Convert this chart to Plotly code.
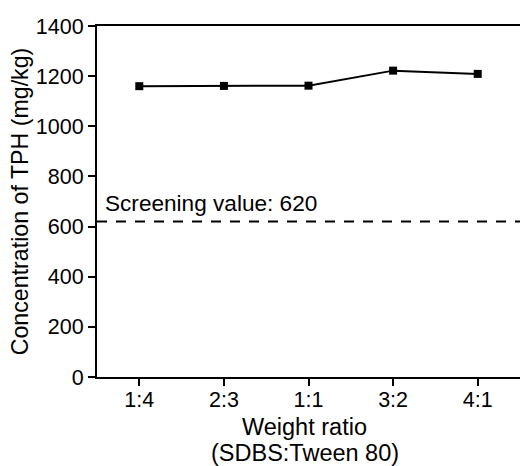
import plotly.graph_objects as go

ratios = ["1:4", "2:3", "1:1", "3:2", "4:1"]
tph = [1160, 1161, 1162, 1222, 1209]
screening_value = 620
y_ticks = [0, 200, 400, 600, 800, 1000, 1200, 1400]
x_title_lines = ["Weight ratio", "(SDBS:Tween 80)"]
y_title = "Concentration of TPH (mg/kg)"

FONT = "Liberation Sans, Arial, Helvetica, sans-serif"

fig = go.Figure()
fig.add_trace(go.Scatter(
    x=ratios, y=tph, mode="lines+markers",
    line=dict(color="black", width=2),
    marker=dict(symbol="square", size=8, color="black"),
    showlegend=False,
))

fig.add_shape(type="line", xref="paper", yref="y", x0=0, x1=1,
              y0=screening_value, y1=screening_value,
              line=dict(color="black", width=2, dash="10px,9px"))
fig.add_annotation(xref="paper", yref="y", x=0, y=screening_value,
                   xanchor="left", yanchor="bottom", xshift=6, yshift=4,
                   text=f"Screening value: {screening_value}", showarrow=False,
                   font=dict(size=22.6, color="black", family=FONT))

# x-axis title, two lines
for line_text, shift in zip(x_title_lines, [-50, -76]):
    fig.add_annotation(xref="paper", yref="paper", x=0.5, y=0,
                       xanchor="center", yanchor="middle", xshift=-4, yshift=shift,
                       text=line_text, showarrow=False,
                       font=dict(size=23.5, color="black", family=FONT))

fig.update_layout(
    width=520, height=466,
    margin=dict(l=97, r=0, t=26, b=89),
    plot_bgcolor="white", paper_bgcolor="white",
    font=dict(family=FONT, color="black", size=21),
)
fig.update_xaxes(
    range=[-0.5, 4.5], showgrid=False, zeroline=False, automargin=False,
    showline=True, linecolor="black", linewidth=2, mirror=True,
    ticks="outside", ticklen=7, tickwidth=2, tickcolor="black",
    tickfont=dict(size=21.5), ticklabelstandoff=-5,
)
fig.update_yaxes(
    range=[0, 1400], tickvals=y_ticks, showgrid=False, zeroline=False, automargin=False,
    showline=True, linecolor="black", linewidth=2,
    ticks="outside", ticklen=7, tickwidth=2, tickcolor="black",
    tickfont=dict(size=21.5),
    title=dict(text=y_title, font=dict(size=23.2), standoff=1),
)

fig.write_html("out.html")
